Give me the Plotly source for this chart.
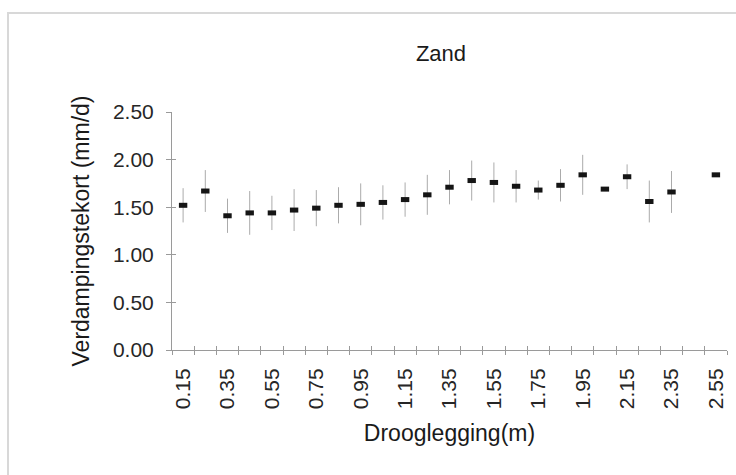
import plotly.graph_objects as go

# Drooglegging classes (m) and mean evaporation deficit (mm/d) with spread
drooglegging = [0.15, 0.25, 0.35, 0.45, 0.55, 0.65, 0.75, 0.85, 0.95, 1.05,
                1.15, 1.25, 1.35, 1.45, 1.55, 1.65, 1.75, 1.85, 1.95, 2.05,
                2.15, 2.25, 2.35, 2.45, 2.55]
verdampingstekort = [1.52, 1.67, 1.41, 1.44, 1.44, 1.47, 1.49, 1.52, 1.53, 1.55,
                     1.58, 1.63, 1.71, 1.78, 1.76, 1.72, 1.68, 1.73, 1.84, 1.69,
                     1.82, 1.56, 1.66, None, 1.84]
spreiding = [0.18, 0.22, 0.18, 0.23, 0.18, 0.22, 0.19, 0.19, 0.22, 0.18,
             0.18, 0.21, 0.18, 0.21, 0.21, 0.17, 0.10, 0.17, 0.21, 0.0,
             0.13, 0.22, 0.22, None, 0.0]

# Labelled ticks (every other class) and class boundaries
label_vals = [0.15, 0.35, 0.55, 0.75, 0.95, 1.15, 1.35, 1.55, 1.75, 1.95, 2.15, 2.35, 2.55]
label_text = ["0.15", "0.35", "0.55", "0.75", "0.95", "1.15", "1.35",
              "1.55", "1.75", "1.95", "2.15", "2.35", "2.55"]
grenzen = [0.1, 0.2, 0.3, 0.4, 0.5, 0.6, 0.7, 0.8, 0.9, 1.0, 1.1, 1.2, 1.3,
           1.4, 1.5, 1.6, 1.7, 1.8, 1.9, 2.0, 2.1, 2.2, 2.3, 2.4, 2.5, 2.6]
y_ticks = [0.0, 0.5, 1.0, 1.5, 2.0, 2.5]

FONT = "Liberation Sans, Arial, sans-serif"
AXIS = "#9a9a9a"

fig = go.Figure()
fig.add_trace(go.Scatter(
    x=drooglegging,
    y=verdampingstekort,
    mode="markers",
    marker=dict(symbol="line-ew", size=6, color="#151515",
                line=dict(width=5, color="#151515")),
    error_y=dict(type="data", array=spreiding, visible=True,
                 color="#ababab", thickness=1, width=0),
    showlegend=False,
    hoverinfo="x+y",
))

fig.update_layout(
    width=736, height=475,
    margin=dict(l=172, r=9, t=112, b=125),
    paper_bgcolor="white", plot_bgcolor="white",
    font=dict(family=FONT, color="#222222"),
    title=dict(text="Zand", x=441 / 736, xref="container", xanchor="center",
               y=1 - 53 / 475, yref="container", yanchor="middle",
               font=dict(family=FONT, size=22, color="#1a1a1a")),
    xaxis=dict(
        range=[0.1, 2.6], showgrid=False, zeroline=False,
        showline=True, linecolor=AXIS, linewidth=1,
        tickmode="array", tickvals=label_vals, ticktext=label_text,
        ticks="", tickangle=-90, ticklabelstandoff=9,
        tickfont=dict(family=FONT, size=21, color="#262626"),
        minor=dict(ticks="outside", tickmode="array", tickvals=grenzen,
                   ticklen=4, tickcolor=AXIS, tickwidth=1),
        title=dict(text="Drooglegging(m)", standoff=16,
                   font=dict(family=FONT, size=23, color="#1a1a1a")),
    ),
    xaxis2=dict(
        overlaying="x", anchor="y", side="bottom", range=[0.1, 2.6],
        showgrid=False, zeroline=False, showline=False,
        tickmode="array", tickvals=grenzen, ticks="inside", ticklen=4,
        tickcolor=AXIS, showticklabels=False,
    ),
    yaxis=dict(
        range=[0, 2.5], showgrid=False, zeroline=False,
        showline=True, linecolor=AXIS, linewidth=1,
        tickmode="array", tickvals=y_ticks, tickformat=".2f",
        ticks="outside", ticklen=5, tickcolor=AXIS, ticklabelstandoff=8,
        tickfont=dict(family=FONT, size=21, color="#262626"),
        title=dict(text="Verdampingstekort (mm/d)", standoff=16,
                   font=dict(family=FONT, size=23, color="#1a1a1a")),
    ),
    yaxis2=dict(
        overlaying="y", anchor="x", side="left", range=[0, 2.5],
        showgrid=False, zeroline=False, showline=False,
        tickmode="array", tickvals=y_ticks, ticks="inside", ticklen=4,
        tickcolor=AXIS, showticklabels=False,
    ),
    shapes=[dict(type="rect", xref="paper", yref="paper",
                 x0=(8 - 172) / 555, x1=1.2, y0=-1.0, y1=(350 - 13) / 238,
                 line=dict(color="#d8d8d8", width=2), fillcolor="rgba(0,0,0,0)",
                 layer="below")],
)

# invisible helper so the overlay axes are laid out
fig.add_trace(go.Scatter(x=[None], y=[None], xaxis="x2", yaxis="y2",
                         showlegend=False, hoverinfo="skip"))

fig.write_html("out.html")
